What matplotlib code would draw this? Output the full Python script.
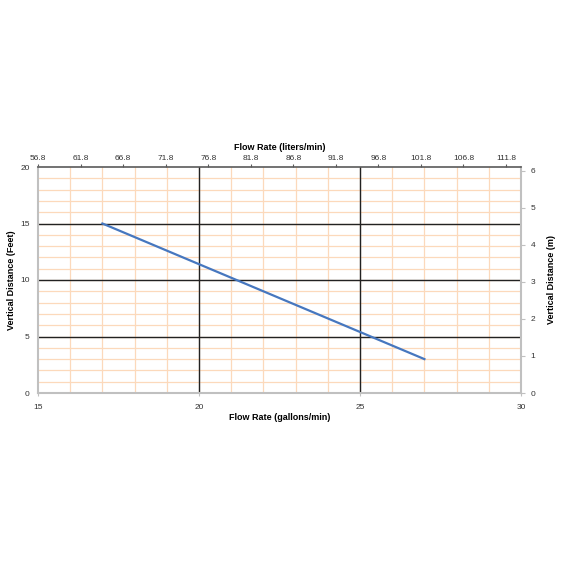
import matplotlib
matplotlib.use("Agg")
import matplotlib.pyplot as plt
import numpy as np

# data
flow_gpm = [17, 27]
distance_ft = [15, 3]
liters_ticks = [56.8, 61.8, 66.8, 71.8, 76.8, 81.8, 86.8, 91.8, 96.8, 101.8, 106.8, 111.8]
gpm_ticks = [15, 20, 25, 30]
ft_ticks = [0, 5, 10, 15, 20]
m_ticks = [0, 1, 2, 3, 4, 5, 6]

GAL2L = 3.78541
FT2M = 0.3048

plt.rcParams['font.family'] = ['Liberation Sans', 'DejaVu Sans']

fig = plt.figure(figsize=(5.62, 5.62), dpi=100)
ax = fig.add_axes([38/562, 1-393/562, (521-38)/562, (393-167)/562])

ax.set_xlim(15, 30)
ax.set_ylim(0, 20)

# minor grid
for x in np.arange(16, 30, 1):
    ax.axvline(x, color='#fcd9bb', lw=0.9, zorder=1)
for y in np.arange(1, 20, 1):
    ax.axhline(y, color='#fcd9bb', lw=0.9, zorder=1)
# major grid
for x in [20, 25]:
    ax.axvline(x, color='#222222', lw=1.0, zorder=2)
for y in [5, 10, 15]:
    ax.axhline(y, color='#222222', lw=1.0, zorder=2)

ax.plot(flow_gpm, distance_ft, color='#4677bf', lw=1.6, zorder=3)

for s in ax.spines.values():
    s.set_color('#c0c0c0')
    s.set_linewidth(1.5)
ax.spines['top'].set_color('#5a5a5a')
ax.spines['top'].set_linewidth(1.2)

ax.set_xticks(gpm_ticks)
ax.set_yticks(ft_ticks)
ax.set_xticklabels([str(t) for t in gpm_ticks])
ax.tick_params(axis='y', labelsize=6, colors='#c0c0c0', labelcolor='#333333',
               length=0, pad=6)
ax.tick_params(axis='x', labelsize=6, colors='#c0c0c0', labelcolor='#333333',
               length=2, width=0.8, pad=6)

ax.set_xlabel('Flow Rate (gallons/min)', fontsize=6.5, fontweight='bold', labelpad=1)
ax.set_ylabel('Vertical Distance (Feet)', fontsize=6.5, fontweight='bold', labelpad=3)

# top axis liters/min
top = ax.secondary_xaxis('top', functions=(lambda g: g * GAL2L, lambda l: l / GAL2L))
top.set_xticks(liters_ticks)
top.set_xticklabels([f"{t:.1f}" for t in liters_ticks])
top.spines['top'].set_visible(False)
top.tick_params(labelsize=6, colors='#5a5a5a', labelcolor='#333333', length=2.5, width=0.8, pad=1)
top.set_xlabel('Flow Rate (liters/min)', fontsize=6.5, fontweight='bold', labelpad=4)

# right axis meters
right = ax.secondary_yaxis('right', functions=(lambda f: f * FT2M, lambda m: m / FT2M))
right.set_yticks(m_ticks)
right.spines['right'].set_visible(False)
right.tick_params(labelsize=6, colors='#c0c0c0', labelcolor='#333333', length=3, width=0.8, pad=4)
right.set_ylabel('Vertical Distance (m)', fontsize=6.5, fontweight='bold', labelpad=8)

fig.savefig('out.png', dpi=100)
